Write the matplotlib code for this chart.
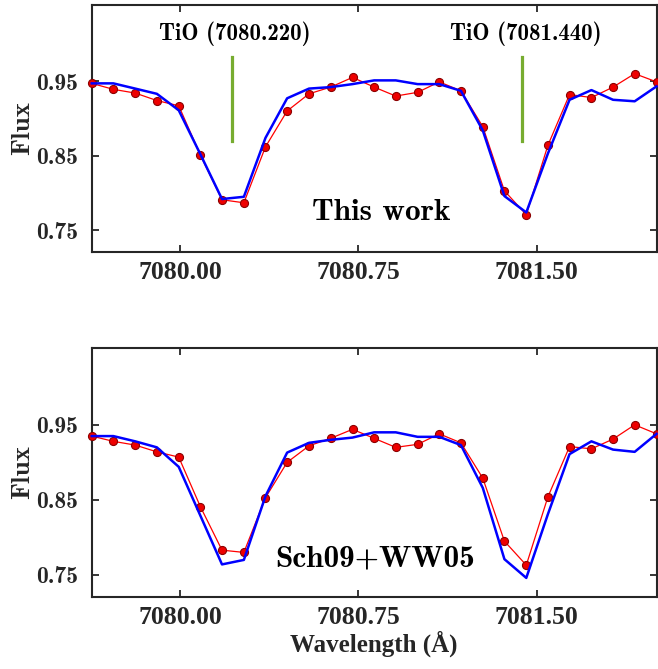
import matplotlib
matplotlib.use("Agg")
import matplotlib.pyplot as plt

# wavelength grid (Angstrom)
wavelength = [7079.629, 7079.720, 7079.812, 7079.903, 7079.995, 7080.086, 7080.177,
              7080.269, 7080.360, 7080.451, 7080.543, 7080.634, 7080.726, 7080.817,
              7080.908, 7081.000, 7081.091, 7081.182, 7081.274, 7081.365, 7081.457,
              7081.548, 7081.639, 7081.731, 7081.822, 7081.913, 7082.005]

# top panel: observed (red) and synthetic (blue), "This work"
obs_top = [0.947, 0.939, 0.934, 0.924, 0.917, 0.851, 0.791, 0.787, 0.862, 0.910,
           0.933, 0.942, 0.955, 0.942, 0.930, 0.935, 0.949, 0.937, 0.889, 0.803,
           0.771, 0.864, 0.932, 0.928, 0.942, 0.960, 0.949]
model_top = [0.947, 0.947, 0.940, 0.933, 0.911, 0.852, 0.792, 0.795, 0.874, 0.927,
             0.940, 0.942, 0.946, 0.951, 0.951, 0.946, 0.946, 0.937, 0.884, 0.796,
             0.774, 0.853, 0.925, 0.938, 0.925, 0.923, 0.943]

# bottom panel: observed (red) and synthetic (blue), "Sch09+WW05"
obs_bot = [0.935, 0.928, 0.923, 0.914, 0.907, 0.841, 0.783, 0.780, 0.853, 0.900,
           0.922, 0.932, 0.944, 0.932, 0.920, 0.924, 0.938, 0.926, 0.879, 0.795,
           0.763, 0.854, 0.921, 0.918, 0.931, 0.950, 0.938]
model_bot = [0.935, 0.935, 0.928, 0.920, 0.894, 0.829, 0.764, 0.770, 0.855, 0.913,
             0.926, 0.930, 0.933, 0.940, 0.940, 0.934, 0.934, 0.923, 0.866, 0.771,
             0.746, 0.831, 0.911, 0.928, 0.917, 0.914, 0.938]

tio_lines = [7080.220, 7081.440]
tio_labels = ["TiO (7080.220)", "TiO (7081.440)"]
panel_labels = ["This work", "Sch09+WW05"]

xticks = [7080.00, 7080.75, 7081.50]
xtick_labels = ["7080.00", "7080.75", "7081.50"]
yticks = [0.75, 0.85, 0.95]
ytick_labels = ["0.75", "0.85", "0.95"]

spine_col = "#262626"
CM_BOLD = "cmb10"


def style_axis(ax):
    ax.set_xlim(7079.629, 7082.005)
    ax.set_ylim(0.721, 1.052)
    ax.set_xticks(xticks)
    ax.set_xticklabels(xtick_labels, family="Liberation Serif",
                       fontweight="bold", fontsize=18.5)
    ax.set_yticks(yticks)
    ax.set_yticklabels(ytick_labels, family=CM_BOLD, fontsize=17)
    ax.tick_params(direction="in", top=True, right=True, length=5, width=1.3,
                   color=spine_col, labelcolor="#262626")
    ax.tick_params(axis="x", pad=6.5)
    ax.tick_params(axis="y", pad=10)
    for sp in ax.spines.values():
        sp.set_color(spine_col)
        sp.set_linewidth(1.5)
    ax.set_ylabel("Flux", family=CM_BOLD, fontsize=19.5, labelpad=1.5,
                  color="#262626")


def draw(ax, obs, model):
    ax.plot(wavelength, obs, color="#ff0000", lw=0.9, marker="o", ms=5.8,
            mfc="#ee0000", mec="#8b0000", mew=0.8, clip_on=False, zorder=3)
    ax.plot(wavelength, model, color="#0000ff", lw=1.8, clip_on=False, zorder=4)


fig = plt.figure(figsize=(6.58, 6.69), dpi=100)
ax1 = fig.add_axes([0.1394, 0.6233, 0.8584, 0.3692])
ax2 = fig.add_axes([0.1394, 0.1081, 0.8584, 0.3713])

draw(ax1, obs_top, model_top)
draw(ax2, obs_bot, model_bot)
style_axis(ax1)
style_axis(ax2)

# TiO line markers
label_x = [7080.231, 7081.454]
for lx, tx, lab in zip(tio_lines, label_x, tio_labels):
    ax1.plot([lx, lx], [0.870, 0.983], color="#77ac30", lw=2.3, zorder=2)
    ax1.text(tx, 1.013, lab, family=CM_BOLD, fontsize=16.5,
             ha="center", va="center")

ax1.text(7080.848, 0.7744, panel_labels[0], family=CM_BOLD, fontsize=22.5,
         ha="center", va="center")
ax2.text(7080.82, 0.772, panel_labels[1], family=CM_BOLD, fontsize=22.5,
         ha="center", va="center")

ax2.set_xlabel("Wavelength (Å)", family="Liberation Serif", fontweight="bold",
               fontsize=18, labelpad=1, color="#262626")

fig.savefig("out.png", dpi=100)
